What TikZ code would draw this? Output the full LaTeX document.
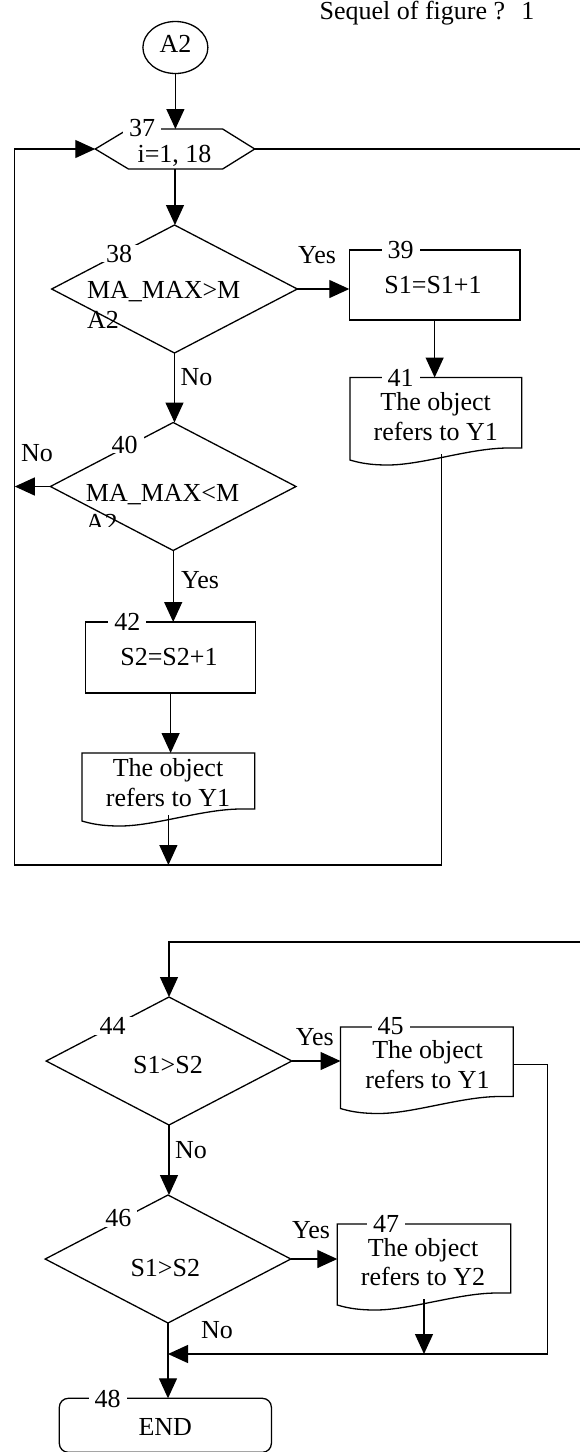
\documentclass[tikz,border=0pt]{standalone}
\usepackage{fontspec}
\setmainfont{Liberation Serif}
\usetikzlibrary{arrows.meta,shapes.geometric,calc}
\newcommand{\docdraw}[2]{%
\draw[ln] (#1.north west) -- (#1.north east) -- ($(#1.south east)+(0,-6)$) -- ($(#1.south east)+(-0.08*#2,-6)$) .. controls ($(#1.south east)+(-0.3*#2,-6)$) and ($(#1.south west)+(0.42*#2,11)$) .. ($(#1.south west)+(0.22*#2,11)$) .. controls ($(#1.south west)+(0.1*#2,11)$) and ($(#1.south west)+(0.04*#2,8)$) .. ($(#1.south west)+(0,6)$) -- cycle;}
\begin{document}
\begin{tikzpicture}[x=1pt,y=-1pt,
  every node/.style={font=\fontsize{26pt}{30pt}\selectfont, inner sep=0pt},
  ln/.style={line width=1.3pt},
  arr/.style={line width=1.3pt, -{Triangle[length=20pt,width=18pt]}},
  ghost/.style={draw=none, rectangle, inner sep=0pt, outer sep=0pt},
  box/.style={draw, line width=1.3pt, rectangle, inner sep=0pt, outer sep=0pt},
  dec/.style={draw, diamond, line width=1.3pt, minimum width=245.6pt, minimum height=128pt, inner sep=0pt, outer sep=0pt},
  num/.style={fill=white, inner xsep=6pt, inner ysep=0pt},
  txt/.style={anchor=base},
  ]
\useasboundingbox (0,0) rectangle (579,1452);

% title
\node[anchor=base west] (seq) at (319.4,19.5) {Sequel of figure ? \hspace{7.5pt}1};

% A2 connector
\node[draw, ellipse, line width=1.3pt, minimum width=65pt, minimum height=52pt, outer sep=0pt] (a2) at (175.4,47.5) {};
\node[txt] (a2t) at (175.4,52) {A2};

% 37 loop hexagon
\node[ghost, minimum width=159.5pt, minimum height=40pt] (h37) at (175,149) {};
\draw[ln] (h37.west) -- ($(h37.north west)+(33.2,0)$) -- ($(h37.north east)+(-32.1,0)$) -- (h37.east) -- ($(h37.south east)+(-32.1,0)$) -- ($(h37.south west)+(33.2,0)$) -- cycle;
\node[txt] (h37t) at (174.5,162.5) {i=1, 18};
\coordinate (rx1) at (580,149);
\coordinate (lp) at (14.8,149);
\coordinate (bl) at (14.8,865);
\draw[arr] (a2.south) -- (a2.south |- h37.north);
\draw[ln] (h37.east) -- (h37.east -| rx1);

% 38
\node[dec] (d38) at (174.5,289) {};
\node[anchor=base west] (d38t1) at (86.8,298.5) {MA\_MAX>M};
\node[anchor=base west] (d38t2) at (86.8,328.5) {A2};
\draw[arr] (h37.south) -- (h37.south |- d38.north);

% 39
\node[box, minimum width=170.7pt, minimum height=70pt] (b39) at (434.65,285) {};
\node[txt] (b39t) at (433,293.3) {S1=S1+1};
\draw[arr] (d38.east) -- (d38.east -| b39.west);
\node[txt] (yes1) at (317,263) {Yes};

% 41
\node[ghost, minimum width=171.8pt, minimum height=76.5pt] (d41) at (435.9,415.75) {};
\docdraw{d41}{171.8}
\node[txt] (d41a) at (435.7,410.7) {The object};
\node[txt] (d41b) at (435.7,440.7) {refers to Y1};
\draw[arr] (b39.south) -- (b39.south |- d41.north);

% 40
\node[dec] (d40) at (173.2,486.5) {};
\node[anchor=base west] (d40t1) at (85.7,501.7) {MA\_MAX<M};
\begin{scope}
\clip (0,0) rectangle (579,526);
\node[anchor=base west] (d40t2) at (85.7,531.7) {A2};
\end{scope}
\draw[arr] (d38.south) -- (d38.south |- d40.north);
\node[txt] (no1) at (196.5,385) {No};
\draw[arr] (d40.west) -- (d40.west -| lp);
\node[txt] (no2) at (37,461.7) {No};

% 42
\node[box, minimum width=169.8pt, minimum height=71pt] (b42) at (170.6,657.5) {};
\node[txt] (b42t) at (169,665) {S2=S2+1};
\draw[arr] (d40.south) -- (d40.south |- b42.north);
\node[txt] (yes2) at (200,588) {Yes};

% 43 document
\node[ghost, minimum width=172.8pt, minimum height=62pt] (d43) at (168.4,784) {};
\docdraw{d43}{172.8}
\node[txt] (d43a) at (168,776.7) {The object};
\node[txt] (d43b) at (168,806.7) {refers to Y1};
\draw[arr] (b42.south) -- (b42.south |- d43.north);
\draw[arr] (d43.south) -- (d43.south |- bl);

% loop back
\draw[arr] ($(d41.south)+(5.4,0)$) |- (bl) -- (lp) -- (h37.west);

% lower part
\coordinate (rx2) at (580,942);
\node[dec] (d44) at (169,1061) {};
\draw[arr] (rx2) -| (d44.north);
\node[txt] (d44t) at (168,1073) {S1>S2};
\node[txt] (yes3) at (314.8,1045) {Yes};

\node[ghost, minimum width=172.8pt, minimum height=75.5pt] (d45) at (426.9,1064.75) {};
\docdraw{d45}{172.8}
\node[txt] (d45a) at (427.5,1058.5) {The object};
\node[txt] (d45b) at (427.5,1088.3) {refers to Y1};
\draw[arr] (d44.east) -- (d44.east -| d45.west);

\node[dec] (d46) at (168,1259) {};
\draw[arr] (d44.south) -- (d44.south |- d46.north);
\node[txt] (no3) at (191,1158) {No};
\node[txt] (d46t) at (165.3,1276) {S1>S2};
\node[txt] (yes4) at (311,1238) {Yes};

\node[ghost, minimum width=173.4pt, minimum height=75pt] (d47) at (424,1261.5) {};
\docdraw{d47}{173.4}
\node[txt] (d47a) at (423,1256) {The object};
\node[txt] (d47b) at (423,1285) {refers to Y2};
\draw[arr] (d46.east) -- (d46.east -| d47.west);

\node[draw, line width=1.3pt, rounded corners=9pt, minimum width=212.1pt, minimum height=54pt, outer sep=0pt] (n48) at (165.35,1425.3) {};
\node[txt] (n48t) at (165.3,1435) {END};
\draw[arr] (d46.south) -- (d46.south |- n48.north);
\node[txt] (no4) at (217,1338) {No};

\coordinate (rc) at (547.6,1354);
\draw[arr] (d45.east) -| (rc) -- (d46.south |- rc);
\draw[arr] (d47.south) -- (d47.south |- rc);

% number labels
\node[num] (l37) at (142,128.5) {37};
\node[num] (l38) at (119,253.5) {38};
\node[num] (l39) at (400.5,250) {39};
\node[num] (l41) at (400.7,377.5) {41};
\node[num] (l40) at (124.6,444.5) {40};
\node[num] (l42) at (127.4,622) {42};
\node[num] (l44) at (112.6,1026) {44};
\node[num] (l45) at (390.5,1026) {45};
\node[num] (l46) at (118.3,1218) {46};
\node[num] (l47) at (386,1224) {47};
\node[num] (l48) at (107.5,1398.5) {48};
\end{tikzpicture}
\end{document}
